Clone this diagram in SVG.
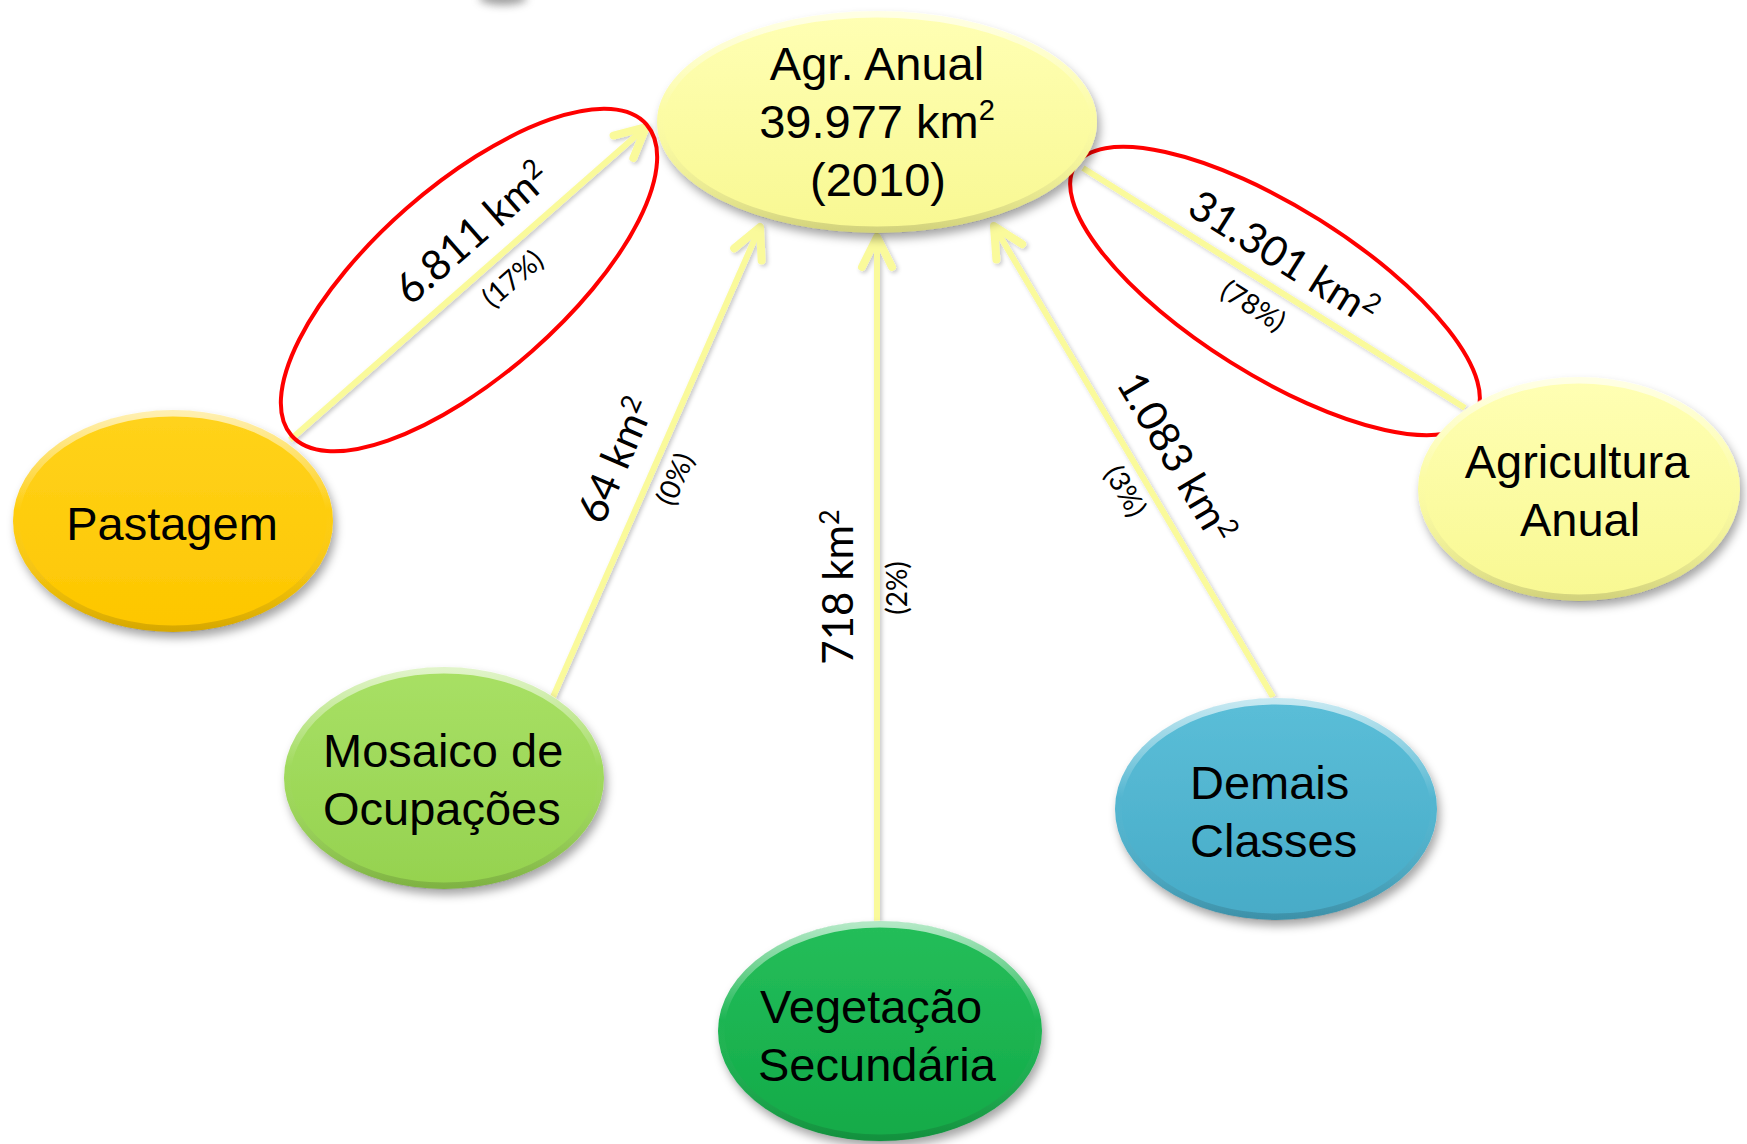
<svg xmlns="http://www.w3.org/2000/svg" width="1747" height="1144" viewBox="0 0 1747 1144">
<defs>
<style>
.nt{font-family:"Liberation Sans",Arial,sans-serif;font-size:47px;fill:#000}
.mid{text-anchor:middle}
.lbl{font-family:Lato,"Open Sans",sans-serif;font-size:42px;fill:#000;text-anchor:middle}
.pct{font-family:Lato,"Open Sans",sans-serif;font-size:28px;fill:#000;text-anchor:middle}
.sup{font-size:27px}
.nsup{font-size:29px}
.conn{stroke:#FAFA9B;stroke-width:6;fill:none}
.ring{fill:none;stroke:#FF0000;stroke-width:4}
.bevel{fill:none;stroke:url(#bevel);stroke-width:7}
.node{filter:url(#shadow)}
</style>
<filter id="shadow" filterUnits="userSpaceOnUse" x="0" y="0" width="1747" height="1144"><feDropShadow dx="3" dy="6" stdDeviation="5" flood-color="#000" flood-opacity="0.35"/></filter>
<filter id="lshadow" filterUnits="userSpaceOnUse" x="0" y="0" width="1747" height="1144"><feDropShadow dx="2" dy="2" stdDeviation="2" flood-color="#000" flood-opacity="0.22"/></filter>
<filter id="blur" filterUnits="userSpaceOnUse" x="0" y="-40" width="1747" height="100"><feGaussianBlur stdDeviation="4"/></filter>
<linearGradient id="bevel" x1="0" y1="0" x2="0" y2="1">
<stop offset="0" stop-color="#fff" stop-opacity="0.65"/>
<stop offset="0.45" stop-color="#fff" stop-opacity="0"/>
<stop offset="1" stop-color="#000" stop-opacity="0.15"/>
</linearGradient>
<linearGradient id="gYellow" x1="0" y1="0" x2="0" y2="1"><stop offset="0" stop-color="#FFFFB4"/><stop offset="1" stop-color="#F8F892"/></linearGradient>
<linearGradient id="gGold" x1="0" y1="0" x2="0" y2="1"><stop offset="0" stop-color="#FFD31C"/><stop offset="1" stop-color="#FDC600"/></linearGradient>
<linearGradient id="gLime" x1="0" y1="0" x2="0" y2="1"><stop offset="0" stop-color="#A8E065"/><stop offset="1" stop-color="#95D24F"/></linearGradient>
<linearGradient id="gGreen" x1="0" y1="0" x2="0" y2="1"><stop offset="0" stop-color="#25BE5A"/><stop offset="1" stop-color="#12AA48"/></linearGradient>
<linearGradient id="gBlue" x1="0" y1="0" x2="0" y2="1"><stop offset="0" stop-color="#5BBED8"/><stop offset="1" stop-color="#47ABC7"/></linearGradient>
<marker id="arrow" markerUnits="userSpaceOnUse" markerWidth="60" markerHeight="60" viewBox="-40 -30 60 60" refX="0" refY="0" orient="auto" overflow="visible">
<path d="M-30,-15 L0,0 L-30,15" fill="none" stroke="#FAFA9B" stroke-width="8" stroke-linecap="round" stroke-linejoin="round"/>
</marker>
</defs>
<rect width="1747" height="1144" fill="#fff"/>
<ellipse cx="503" cy="-2" rx="24" ry="7" fill="#777" opacity="0.7" filter="url(#blur)"/>

<g id="connectors" filter="url(#lshadow)">
<line class="conn" x1="290" y1="440" x2="646" y2="127" marker-end="url(#arrow)"/>
<line class="conn" x1="553" y1="697" x2="760" y2="227" marker-end="url(#arrow)"/>
<line class="conn" x1="877" y1="925" x2="877" y2="237" marker-end="url(#arrow)"/>
<line class="conn" x1="1273" y1="697" x2="994" y2="226" marker-end="url(#arrow)"/>
<line class="conn" x1="1465" y1="408" x2="1083" y2="168"/>
</g>

<g id="edge-labels">
<text class="lbl" transform="translate(482,244) rotate(-41.25)">6.811 km<tspan class="sup" dy="-14">2</tspan></text>
<text class="pct" transform="translate(519,286) rotate(-41.25)">(17%)</text>
<text class="lbl" transform="translate(629,466) rotate(-66.4)">64 km<tspan class="sup" dy="-14">2</tspan></text>
<text class="pct" transform="translate(684,483) rotate(-66.4)">(0%)</text>
<text class="lbl" transform="translate(853,587) rotate(-90)">718 km<tspan class="sup" dy="-14">2</tspan></text>
<text class="pct" transform="translate(907,588) rotate(-90)">(2%)</text>
<text class="lbl" transform="translate(1276,270) rotate(32.1)">31.301 km<tspan class="sup" dy="-14">2</tspan></text>
<text class="pct" transform="translate(1248,314) rotate(32.1)">(78%)</text>
<text class="lbl" transform="translate(1164,465) rotate(59.3)">1.083 km<tspan class="sup" dy="-14">2</tspan></text>
<text class="pct" transform="translate(1117,496) rotate(59.3)">(3%)</text>
</g>

<g id="highlights">
<ellipse class="ring" cx="469" cy="280" rx="236" ry="95" transform="rotate(-41.25 469 280)"/>
<ellipse class="ring" cx="1275" cy="291" rx="236" ry="84" transform="rotate(32.1 1275 291)"/>
</g>

<g id="node-agr-anual-2010">
<ellipse class="node" cx="877" cy="122" rx="220" ry="111" fill="url(#gYellow)"/>
<ellipse class="bevel" cx="877" cy="122" rx="217" ry="108"/>
<text class="nt mid" x="877" y="80">Agr. Anual</text>
<text class="nt mid" x="877" y="138">39.977 km<tspan class="nsup" dy="-18">2</tspan></text>
<text class="nt mid" x="878" y="196">(2010)</text>
</g>

<g id="node-pastagem">
<ellipse class="node" cx="173" cy="521" rx="160" ry="111" fill="url(#gGold)"/>
<ellipse class="bevel" cx="173" cy="521" rx="157" ry="108"/>
<text class="nt mid" x="172" y="540">Pastagem</text>
</g>

<g id="node-mosaico">
<ellipse class="node" cx="444" cy="778" rx="160" ry="111" fill="url(#gLime)"/>
<ellipse class="bevel" cx="444" cy="778" rx="157" ry="108"/>
<text class="nt" x="323" y="767">Mosaico de</text>
<text class="nt" x="323" y="825">Ocupações</text>
</g>

<g id="node-vegetacao">
<ellipse class="node" cx="880" cy="1031" rx="162" ry="110" fill="url(#gGreen)"/>
<ellipse class="bevel" cx="880" cy="1031" rx="159" ry="107"/>
<text class="nt" x="760" y="1023">Vegetação</text>
<text class="nt" x="758" y="1081">Secundária</text>
</g>

<g id="node-demais">
<ellipse class="node" cx="1276" cy="809" rx="161" ry="111" fill="url(#gBlue)"/>
<ellipse class="bevel" cx="1276" cy="809" rx="158" ry="108"/>
<text class="nt" x="1190" y="799">Demais</text>
<text class="nt" x="1190" y="857">Classes</text>
</g>

<g id="node-agricultura-anual">
<ellipse class="node" cx="1579" cy="489" rx="161" ry="112" fill="url(#gYellow)"/>
<ellipse class="bevel" cx="1579" cy="489" rx="158" ry="109"/>
<text class="nt mid" x="1577" y="478">Agricultura</text>
<text class="nt mid" x="1580" y="536">Anual</text>
</g>
</svg>
